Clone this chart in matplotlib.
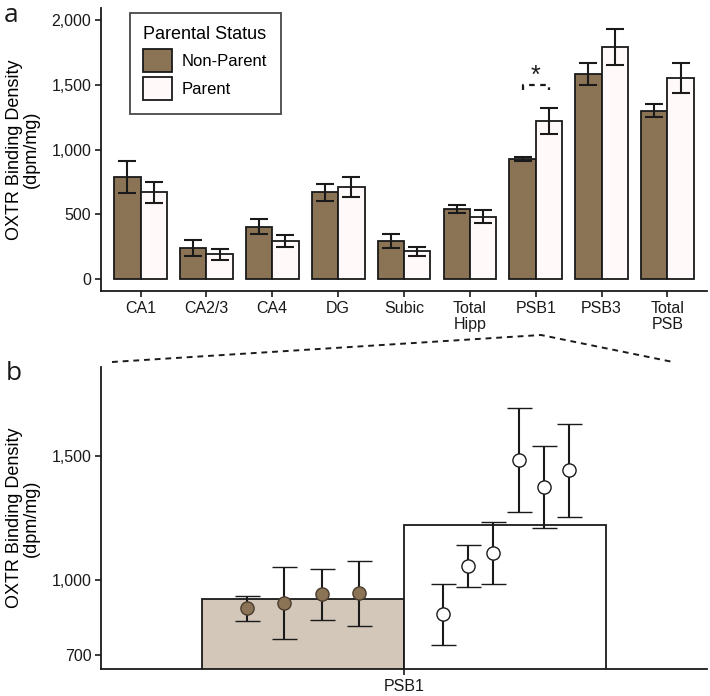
import numpy as np
import matplotlib
matplotlib.use("Agg")
import matplotlib.pyplot as plt
from matplotlib.patches import Patch
from matplotlib.lines import Line2D

plt.rcParams['font.family'] = ['Liberation Sans', 'DejaVu Sans']

# panel a data
regions = ["CA1", "CA2/3", "CA4", "DG", "Subic", "Total\nHipp", "PSB1", "PSB3", "Total\nPSB"]
nonparent_mean = [786, 237, 404, 670, 294, 543, 925, 1584, 1301]
nonparent_se = [125, 63, 60, 67, 57, 32, 15, 85, 47]
parent_mean = [670, 191, 291, 711, 214, 479, 1223, 1790, 1553]
parent_se = [80, 41, 48, 80, 35, 50, 100, 138, 115]

# panel b data (individual PSB1 values)
psb1_np_vals = [886, 909, 942, 946]
psb1_np_err = [51, 145, 102, 130]
psb1_p_vals = [862, 1056, 1107, 1482, 1375, 1441]
psb1_p_err = [122, 86, 125, 210, 165, 188]

brown = "#8B7355"
tan = "#D3C7BA"
offwhite = "#FFF9F9"
ink = "#1a1a1a"

fig = plt.figure(figsize=(7.1, 6.96), dpi=100)
ax1 = fig.add_axes([0.1423, 0.5819, 0.8535, 0.4066])
ax2 = fig.add_axes([0.1423, 0.0388, 0.8535, 0.4343])

x = np.arange(1, len(regions) + 1)
w = 0.4
ekw = dict(ecolor=ink, elinewidth=1.5, capsize=6.5, capthick=1.5)
ax1.bar(x - w / 2, nonparent_mean, w, yerr=nonparent_se, color=brown,
        edgecolor=ink, linewidth=1.3, error_kw=ekw, zorder=2)
ax1.bar(x + w / 2, parent_mean, w, yerr=parent_se, color=offwhite,
        edgecolor=ink, linewidth=1.3, error_kw=ekw, zorder=2)

ax1.set_xlim(0.4, len(regions) + 0.6)
ax1.set_ylim(-93, 2093)
ax1.set_xticks(x)
ax1.set_xticklabels(regions, linespacing=1.1)
ax1.set_yticks([0, 500, 1000, 1500, 2000])
ax1.set_yticklabels(["0", "500", "1,000", "1,500", "2,000"])
ax1.set_ylabel("OXTR Binding Density\n(dpm/mg)", fontsize=13, linespacing=1.0, labelpad=8)

# significance bracket over PSB1
i = regions.index("PSB1") + 1
ax1.plot([i - w / 2, i - w / 2, i + w / 2, i + w / 2], [1460, 1502, 1502, 1460],
         color=ink, lw=1.6, ls=(0, (2.5, 2.5)), zorder=3)
ax1.text(i, 1565, "*", ha="center", va="center", fontsize=18, color=ink)

handles = [Patch(facecolor=brown, edgecolor=ink, linewidth=1.3, label="Non-Parent"),
           Patch(facecolor=offwhite, edgecolor=ink, linewidth=1.3, label="Parent")]
leg = ax1.legend(handles=handles, title="Parental Status", loc="upper left",
                 bbox_to_anchor=(0.047, 0.982), fontsize=12, title_fontsize=13,
                 frameon=True, fancybox=False, edgecolor=ink, borderpad=0.8,
                 handlelength=1.75, handleheight=1.75, handletextpad=0.6,
                 labelspacing=0.32, borderaxespad=0)
leg.get_frame().set_linewidth(1.3)
leg._legend_box.align = "left"

# panel b
ax2.bar([1 - w / 2], [nonparent_mean[i - 1]], w, color=tan, edgecolor=ink, linewidth=1.3, zorder=1)
ax2.bar([1 + w / 2], [parent_mean[i - 1]], w, color="white", edgecolor=ink, linewidth=1.3, zorder=1)

np_offsets = [-0.311, -0.238, -0.162, -0.089]
p_offsets = [0.077, 0.127, 0.177, 0.227, 0.277, 0.327]
ekw2 = dict(ecolor=ink, elinewidth=1.5, capsize=9, capthick=1.5)
ax2.errorbar(1 + np.array(np_offsets), psb1_np_vals, yerr=psb1_np_err, fmt="o",
             ms=9.5, mfc=brown, mec="#4a3d2e", mew=1.0, zorder=3, **ekw2)
ax2.errorbar(1 + np.array(p_offsets), psb1_p_vals, yerr=psb1_p_err, fmt="o",
             ms=9.5, mfc="white", mec=ink, mew=1.0, zorder=3, **ekw2)

ax2.set_xlim(0.4, 1.6)
ax2.set_ylim(642, 1858)
ax2.set_xticks([1])
ax2.set_xticklabels(["PSB1"])
ax2.set_yticks([700, 1000, 1500])
ax2.set_yticklabels(["700", "1,000", "1,500"])
ax2.set_ylabel("OXTR Binding Density\n(dpm/mg)", fontsize=13, linespacing=1.0, labelpad=8)

for ax in (ax1, ax2):
    for s in ("top", "right"):
        ax.spines[s].set_visible(False)
    for s in ("left", "bottom"):
        ax.spines[s].set_linewidth(1.3)
        ax.spines[s].set_color(ink)
    ax.tick_params(axis="both", length=4, width=1.2, color=ink, labelsize=11.5,
                   labelcolor=ink, pad=3)

# zoom lines from panel a to panel b
fx = lambda px: px / 710
fy = lambda py: 1 - py / 696
fig.add_artist(Line2D([fx(112), fx(541), fx(673)], [fy(362), fy(335), fy(362)],
                      color=ink, lw=1.4, ls=(0, (3, 2.5))))

fig.text(fx(4), fy(16), "a", fontsize=19, va="center", ha="left", color=ink,
         family=["Open Sans", "DejaVu Sans"])
fig.text(fx(6), fy(374), "b", fontsize=19, va="center", ha="left", color=ink,
         family=["Open Sans", "DejaVu Sans"])

fig.savefig("out.png", dpi=100)
